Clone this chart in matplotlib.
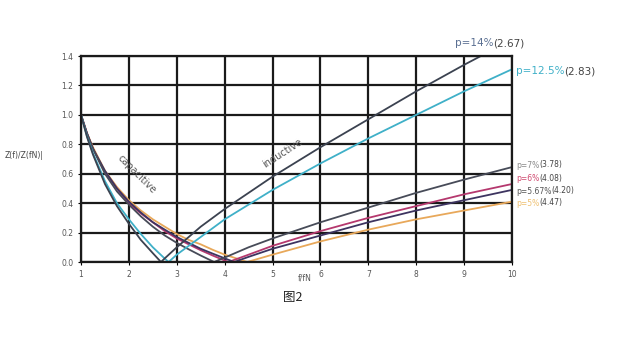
import matplotlib
matplotlib.use("Agg")
import matplotlib.pyplot as plt

# values
h_14 = [1.0, 1.125, 1.25, 1.5, 1.75, 2.0, 2.25, 2.5, 2.67, 2.75, 3.0, 3.25, 3.5, 3.75, 4.0, 4.5,
        5.0, 6.0, 7.0, 8.0, 9.0, 9.35]
z_14 = [1.0, 0.85, 0.73, 0.53, 0.38, 0.26, 0.15, 0.06, 0.0, 0.025, 0.10, 0.17, 0.24, 0.30, 0.36, 0.47,
        0.58, 0.78, 0.97, 1.16, 1.34, 1.40]

h_125 = [1.0, 1.125, 1.25, 1.5, 1.75, 2.0, 2.25, 2.5, 2.75, 2.83, 3.0, 3.25, 3.5, 3.75, 4.0, 4.5,
         5.0, 6.0, 7.0, 8.0, 9.0, 10.0]
z_125 = [1.0, 0.855, 0.74, 0.55, 0.40, 0.29, 0.19, 0.10, 0.023, 0.0, 0.05, 0.11, 0.17, 0.23, 0.29, 0.39,
         0.49, 0.67, 0.84, 1.00, 1.16, 1.31]

h_7 = [1.0, 1.125, 1.25, 1.5, 1.75, 2.0, 2.25, 2.5, 2.75, 3.0, 3.25, 3.5, 3.78, 4.0, 4.5,
       5.0, 6.0, 7.0, 8.0, 9.0, 10.0]
z_7 = [1.0, 0.87, 0.77, 0.60, 0.48, 0.39, 0.31, 0.24, 0.18, 0.13, 0.086, 0.044, 0.0, 0.03, 0.10,
       0.16, 0.27, 0.37, 0.47, 0.56, 0.645]

h_6 = [1.0, 1.125, 1.25, 1.5, 1.75, 2.0, 2.25, 2.5, 2.75, 3.0, 3.25, 3.5, 3.75, 4.0, 4.08, 4.5,
       5.0, 6.0, 7.0, 8.0, 9.0, 10.0]
z_6 = [1.0, 0.874, 0.77, 0.61, 0.50, 0.40, 0.33, 0.27, 0.21, 0.16, 0.12, 0.08, 0.044, 0.01, 0.0, 0.05,
       0.11, 0.21, 0.30, 0.38, 0.46, 0.53]

h_567 = [1.0, 1.125, 1.25, 1.5, 1.75, 2.0, 2.25, 2.5, 2.75, 3.0, 3.25, 3.5, 3.75, 4.0, 4.2, 4.5,
         5.0, 6.0, 7.0, 8.0, 9.0, 10.0]
z_567 = [1.0, 0.875, 0.77, 0.62, 0.50, 0.41, 0.336, 0.27, 0.22, 0.17, 0.13, 0.09, 0.057, 0.025, 0.0, 0.035,
         0.09, 0.18, 0.27, 0.35, 0.42, 0.49]

h_5 = [1.0, 1.125, 1.25, 1.5, 1.75, 2.0, 2.25, 2.5, 2.75, 3.0, 3.25, 3.5, 3.75, 4.0, 4.25, 4.47,
       5.0, 6.0, 7.0, 8.0, 9.0, 10.0]
z_5 = [1.0, 0.876, 0.78, 0.62, 0.51, 0.42, 0.35, 0.29, 0.24, 0.19, 0.15, 0.12, 0.083, 0.05, 0.024, 0.0,
       0.05, 0.14, 0.22, 0.29, 0.35, 0.41]

x_ticks = [1, 2, 3, 4, 5, 6, 7, 8, 9, 10]
y_ticks = [0.0, 0.2, 0.4, 0.6, 0.8, 1.0, 1.2, 1.4]

series = [
    (h_5, z_5, "#e8a85a"),
    (h_6, z_6, "#b5386e"),
    (h_567, z_567, "#3d3460"),
    (h_7, z_7, "#474b58"),
    (h_125, z_125, "#3fb0c8"),
    (h_14, z_14, "#3b4250"),
]

# label text: coloured part, its colour, rest, y pixel, font size, x pixel
labels = [
    ("p=14%", "#5a6f92", "(2.67)", 43, 7.5, 455),
    ("p=12.5%", "#3fb0c8", "(2.83)", 71, 7.5, 516),
    ("p=7%", "#8a8a8a", "(3.78)", 165, 5.5, 516),
    ("p=6%", "#d04a70", "(4.08)", 178, 5.5, 516),
    ("p=5.67%", "#555555", "(4.20)", 191, 5.5, 516),
    ("p=5%", "#efc070", "(4.47)", 203, 5.5, 516),
]

W, H = 625, 352
fig = plt.figure(figsize=(W / 100, H / 100), dpi=100)
ax = fig.add_axes([81 / W, 1 - 262 / H, (512 - 81) / W, (262 - 56) / H])

for h, z, c in series:
    ax.plot(h, z, color=c, lw=1.3)

ax.set_xlim(1, 10)
ax.set_ylim(0, 1.4)
ax.set_xticks(x_ticks)
ax.set_yticks(y_ticks)
ax.set_xticklabels([str(t) for t in x_ticks])
ax.set_yticklabels(["%.1f" % t for t in y_ticks])
ax.tick_params(labelsize=5.5, labelcolor="#555555", length=2, width=0.8)
ax.grid(True, color="#1a1a1a", lw=1.6)
for s in ax.spines.values():
    s.set_linewidth(1.6)
    s.set_color("#1a1a1a")

ax.text(2.17, 0.60, "capacitive", rotation=-45, fontsize=7, color="#555555",
        ha="center", va="center")
ax.text(5.2, 0.74, "inductive", rotation=33, fontsize=7, color="#555555",
        ha="center", va="center")

fig.text(5 / W, 1 - 155 / H, "Z(f)/Z(fN)|", fontsize=5.5, color="#444444", va="center")
fig.text(298 / W, 1 - 278 / H, "f/fN", fontsize=5.5, color="#555555", va="center")
fig.text(283 / W, 1 - 297 / H, "图2", fontsize=9, color="#222222", va="center",
         family=["Noto Sans CJK SC", "DejaVu Sans"])

fig.canvas.draw()
r = fig.canvas.get_renderer()
for part1, col, part2, ypx, fs, xpx in labels:
    t = fig.text(xpx / W, 1 - ypx / H, part1, fontsize=fs, color=col, va="center")
    bb = t.get_window_extent(renderer=r)
    fig.text(bb.x1 / W, 1 - ypx / H, part2, fontsize=fs, color="#444444", va="center")

fig.savefig("out.png", dpi=100)
